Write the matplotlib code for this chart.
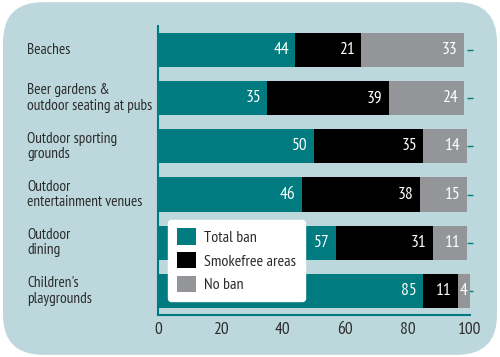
import matplotlib.pyplot as plt
import matplotlib.font_manager as fm
from matplotlib.patches import FancyBboxPatch, Patch

# pick a narrow humanist face, close to the condensed font of the original
installed = set(f.name for f in fm.fontManager.ttflist)
narrow = [n for n in ['PT Sans Narrow', 'Fira Sans Condensed', 'Open Sans Condensed', 'Roboto Condensed',
                      'Archivo Narrow', 'Asap Condensed', 'Liberation Sans Narrow'] if n in installed]
plt.rcParams['font.family'] = narrow[:1] + ['DejaVu Sans']

categories = ['Beaches', 'Beer gardens &\noutdoor seating at pubs', 'Outdoor sporting\ngrounds',
              'Outdoor\nentertainment venues', 'Outdoor\ndining', "Children's\nplaygrounds"]
total_ban = [44, 35, 50, 46, 57, 85]
smokefree = [21, 39, 35, 38, 31, 11]
no_ban = [33, 24, 14, 15, 11, 4]
series_names = ['Total ban', 'Smokefree areas', 'No ban']
xticks = [0, 20, 40, 60, 80, 100]

TEAL = '#007b80'
BLACK = '#000000'
GREY = '#939598'
BG = '#bdd8dc'
TEXT = '#2b2b2b'

fig = plt.figure(figsize=(5, 3.57), dpi=100)
fig.patch.set_facecolor('white')
bg = FancyBboxPatch((0.006, 0.006), 0.988, 0.988, boxstyle='round,pad=0,rounding_size=0.08',
                    transform=fig.transFigure, facecolor=BG, edgecolor='none', zorder=-10,
                    mutation_aspect=500 / 357)
fig.patches.append(bg)

ax = fig.add_axes([0.316, 0.118, 0.624, 0.809])
ax.set_facecolor('none')

y = list(range(len(categories)))
h = 0.71
segs = [total_ban, smokefree, no_ban]
colors = [TEAL, BLACK, GREY]
left = [0] * len(categories)
for vals, col in zip(segs, colors):
    ax.barh(y, vals, left=left, height=h, color=col, zorder=2)
    for yi, l, v in zip(y, left, vals):
        pad = 2.0 if v > 6 else 0.7  # tiny segments: keep the number inside
        ax.text(l + v - pad, yi, str(v), ha='right', va='center', color='white', fontsize=12.5, zorder=3)
    left = [a + b for a, b in zip(left, vals)]

ax.set_xlim(0, 100)
ax.set_ylim(len(categories) - 0.5, -0.5)
ax.set_xticks(xticks)
ax.set_xticklabels([str(t) for t in xticks], fontsize=12.5, color=TEXT)
ax.tick_params(axis='x', length=0, pad=5)
ax.yaxis.tick_right()
ax.set_yticks(y)
ax.set_yticklabels([])
ax.tick_params(axis='y', direction='inout', length=5, color=TEAL, width=1)

for s in ['top', 'right']:
    ax.spines[s].set_visible(False)
for s in ['left', 'bottom']:
    ax.spines[s].set_color(TEAL)
    ax.spines[s].set_linewidth(1.5)

for yi, cat in zip(y, categories):
    ax.text(-0.42, yi, cat, transform=ax.get_yaxis_transform(), ha='left', va='center',
            fontsize=11, color=TEXT, linespacing=1.15)

handles = [Patch(facecolor=c, edgecolor='none') for c in colors]
leg = ax.legend(handles, series_names, loc='upper left', bbox_to_anchor=(0.032, 0.33),
                borderaxespad=0, fontsize=11.5, frameon=True, fancybox=True,
                handlelength=1.2, handleheight=1.2, handletextpad=0.5, labelspacing=0.45,
                borderpad=0.55, labelcolor=TEXT)
leg.get_frame().set_facecolor('white')
leg.get_frame().set_edgecolor('white')
leg.get_frame().set_alpha(1)
leg.set_zorder(5)

fig.savefig('out.png', dpi=100)
